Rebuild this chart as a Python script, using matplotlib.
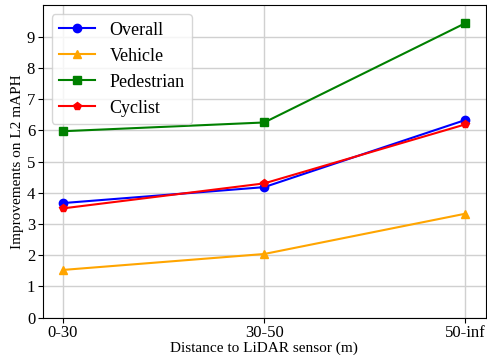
import matplotlib.pyplot as plt

plt.rcParams['font.family'] = ['Liberation Serif', 'DejaVu Serif']

ranges = ['0-30', '30-50', '50-inf']
overall = [3.67, 4.18, 6.33]
vehicle = [1.53, 2.04, 3.33]
pedestrian = [5.97, 6.25, 9.43]
cyclist = [3.50, 4.30, 6.19]

fig, ax = plt.subplots(figsize=(4.87, 3.55), dpi=100)
x = range(len(ranges))
ax.plot(x, overall, '-o', color='blue', label='Overall', markersize=6, linewidth=1.5)
ax.plot(x, vehicle, '-^', color='orange', label='Vehicle', markersize=6, linewidth=1.5)
ax.plot(x, pedestrian, '-s', color='green', label='Pedestrian', markersize=6, linewidth=1.5)
ax.plot(x, cyclist, '-p', color='red', label='Cyclist', markersize=6, linewidth=1.5)

ax.set_xticks(list(x))
ax.set_xticklabels(ranges, fontsize=12)
ax.set_yticks(range(0, 10))
ax.tick_params(axis='y', labelsize=12, pad=2)
ax.tick_params(axis='x', pad=2)
ax.set_xlim(-0.1, 2.1)
ax.set_ylim(0, 10)
ax.grid(True, color='#d0d0d0', linewidth=1)
ax.set_axisbelow(True)
ax.set_xlabel('Distance to LiDAR sensor (m)', fontsize=11, labelpad=0)
ax.set_ylabel('Improvements on L2 mAPH', fontsize=11, labelpad=2)
ax.legend(loc='upper left', fontsize=13)

fig.subplots_adjust(left=0.088, right=0.997, top=0.985, bottom=0.105)
fig.savefig('out.png')
